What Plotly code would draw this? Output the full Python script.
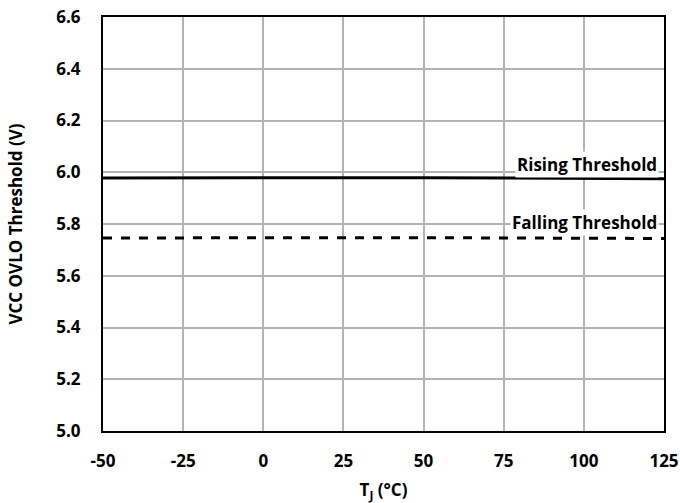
import plotly.graph_objects as go

temps = [-50, -25, 0, 25, 50, 75, 100, 125]
rising = [5.978, 5.979, 5.979, 5.979, 5.979, 5.977, 5.976, 5.975]
falling = [5.746, 5.747, 5.747, 5.747, 5.747, 5.746, 5.745, 5.744]
x_ticks = [-50, -25, 0, 25, 50, 75, 100, 125]
y_ticks = [5.0, 5.2, 5.4, 5.6, 5.8, 6.0, 6.2, 6.4, 6.6]

font_family = "'Open Sans', Lato, sans-serif"

fig = go.Figure()
fig.add_trace(go.Scatter(x=temps, y=rising, mode="lines", line=dict(color="black", width=3), name="Rising Threshold"))
fig.add_trace(go.Scatter(x=temps, y=falling, mode="lines", line=dict(color="black", width=3, dash="dash"), name="Falling Threshold"))

fig.add_annotation(x=123.5, y=rising[-1], text="<b>Rising Threshold</b>", xanchor="right", yanchor="middle",
                   yshift=14, showarrow=False, bgcolor="white", borderpad=1,
                   font=dict(size=17, color="black", family=font_family))
fig.add_annotation(x=123.5, y=falling[-1], text="<b>Falling Threshold</b>", xanchor="right", yanchor="middle",
                   yshift=16, showarrow=False, bgcolor="white", borderpad=1,
                   font=dict(size=17, color="black", family=font_family))

fig.update_layout(
    width=680, height=503,
    margin=dict(l=103, r=16, t=17, b=72, autoexpand=False),
    plot_bgcolor="white", paper_bgcolor="white",
    showlegend=False,
    font=dict(family=font_family, size=17, color="black"),
)
fig.update_xaxes(range=[-50, 125], tickvals=x_ticks, ticktext=[f"<b>{t}</b>" for t in x_ticks],
                 showgrid=True, gridcolor="#b3b3b3", gridwidth=1.5, automargin=False,
                 showline=True, linecolor="black", linewidth=2, mirror=True, ticks="",
                 ticklabelstandoff=14, ticklabeloverflow="allow",
                 title=dict(text="<b>T<sub>J</sub> (°C)</b>", standoff=13, font=dict(size=17)),
                 zeroline=False)
fig.update_yaxes(range=[5.0, 6.6], tickvals=y_ticks, ticktext=[f"<b>{t:.1f}</b>" for t in y_ticks],
                 showgrid=True, gridcolor="#b3b3b3", gridwidth=1.5, automargin=False,
                 showline=True, linecolor="black", linewidth=2, mirror=True, ticks="",
                 ticklabelstandoff=17, ticklabeloverflow="allow",
                 title=dict(text="<b>VCC OVLO Threshold (V)</b>", standoff=29, font=dict(size=17)),
                 zeroline=False)

fig.write_html("out.html", config={"displayModeBar": False},
               post_script="document.body.style.margin='0';document.body.style.overflow='hidden';")
